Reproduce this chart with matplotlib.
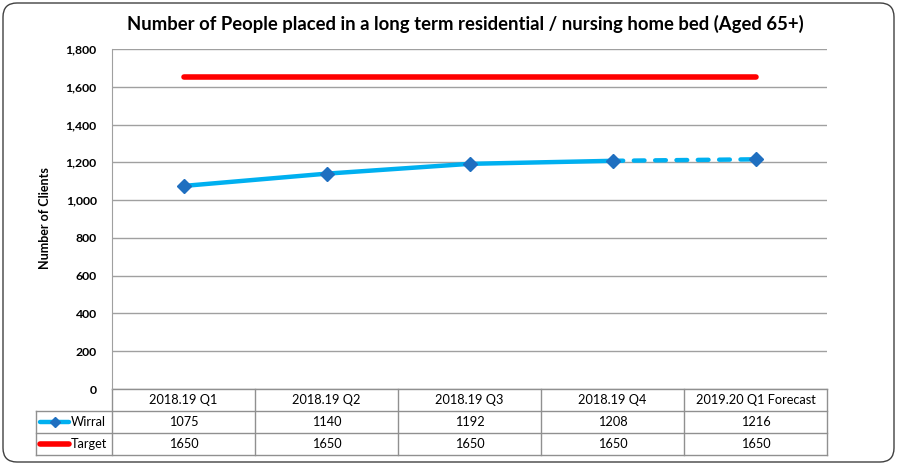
import matplotlib
matplotlib.use("Agg")
import matplotlib.pyplot as plt
from matplotlib.patches import FancyBboxPatch

categories = ["2018.19 Q1", "2018.19 Q2", "2018.19 Q3", "2018.19 Q4", "2019.20 Q1 Forecast"]
wirral = [1075, 1140, 1192, 1208, 1216]
target = [1650, 1650, 1650, 1650, 1650]
yticks = [0, 200, 400, 600, 800, 1000, 1200, 1400, 1600, 1800]
title = "Number of People placed in a long term residential / nursing home bed (Aged 65+)"
ylabel = "Number of Clients"
series_names = ["Wirral", "Target"]

plt.rcParams['font.family'] = ['Lato', 'DejaVu Sans']

W, H = 899, 468
fig = plt.figure(figsize=(W / 100, H / 100), dpi=100)

# overlay axes in pixel coords
ov = fig.add_axes([0, 0, 1, 1], zorder=0)
ov.set_xlim(0, W)
ov.set_ylim(H, 0)
ov.axis('off')
ov.add_patch(FancyBboxPatch((3, 3), W - 8, H - 9, boxstyle="round,pad=0,rounding_size=14",
                            fc='white', ec='#404040', lw=1.0))

pl, pr, pt, pb = 112, 827, 49, 389
ax = fig.add_axes([pl / W, (H - pb) / H, (pr - pl) / W, (pb - pt) / H], zorder=2)
ax.set_facecolor('none')
x = list(range(len(categories)))
ax.set_xlim(-0.5, len(categories) - 0.5)
ax.set_ylim(0, 1800)
ax.set_yticks(yticks)
ax.set_yticklabels([f"{v:,}" for v in yticks], fontsize=8.8, fontweight='bold')
ax.tick_params(axis='y', length=0, pad=11)
ax.set_xticks([])
ax.grid(axis='y', color='#a0a0a0', lw=1.0)
for s in ['top', 'right', 'bottom']:
    ax.spines[s].set_visible(False)
ax.spines['left'].set_color('#a0a0a0')

lc = '#00B0F0'
mc = '#1F6FC0'
ax.plot(x, target, color='#FF0000', lw=4.0, solid_capstyle='round', zorder=3)
ax.plot(x[:4], wirral[:4], color=lc, lw=3.2, solid_capstyle='round', zorder=3)
ax.plot(x[3:], wirral[3:], color=lc, lw=3.2, ls=(0, (2.4, 2.4)), dash_capstyle='round', zorder=3)
ax.plot(x, wirral, ls='none', marker='D', ms=7.5, mfc=mc, mec=mc, zorder=4)

fig.text(465 / W, 1 - 24 / H, title, ha='center', va='center', fontsize=13.3, fontweight='bold')
fig.text(45 / W, 1 - 218 / H, ylabel, ha='center', va='center', rotation=90, fontsize=9, fontweight='bold')

# data table
cw = (pr - pl) / len(categories)
rows = [389, 411, 433, 455]
gc = '#909090'
ov.plot([pl, pr], [rows[0], rows[0]], color=gc, lw=1)
for r in rows[1:]:
    ov.plot([36, pr], [r, r], color=gc, lw=1)
for i in range(len(categories) + 1):
    xx = pl + i * cw
    ov.plot([xx, xx], [rows[0], rows[3]], color=gc, lw=1)
ov.plot([36, 36], [rows[1], rows[3]], color=gc, lw=1)
fs = 9.2
for i, c in enumerate(categories):
    cx = pl + (i + 0.5) * cw
    ov.text(cx, (rows[0] + rows[1]) / 2, c, ha='center', va='center', fontsize=fs)
    ov.text(cx, (rows[1] + rows[2]) / 2, str(wirral[i]), ha='center', va='center', fontsize=fs)
    ov.text(cx, (rows[2] + rows[3]) / 2, str(target[i]), ha='center', va='center', fontsize=fs)

y1 = (rows[1] + rows[2]) / 2
y2 = (rows[2] + rows[3]) / 2
ov.plot([40, 69], [y1, y1], color=lc, lw=3.2, solid_capstyle='round')
ov.plot([55], [y1], marker='D', ms=5, color=mc)
ov.plot([40, 69], [y2, y2], color='#FF0000', lw=4.0, solid_capstyle='round')
ov.text(71, y1, series_names[0], ha='left', va='center', fontsize=fs)
ov.text(71, y2, series_names[1], ha='left', va='center', fontsize=fs)

fig.savefig('out.png', dpi=100)
